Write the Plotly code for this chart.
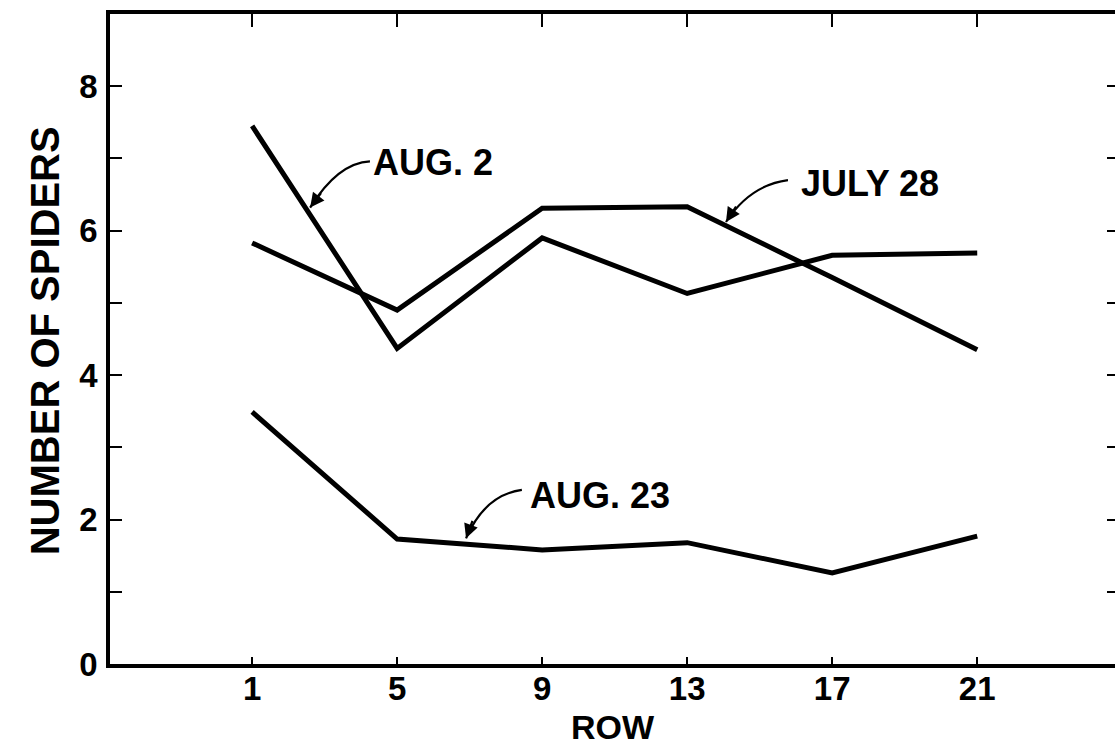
import plotly.graph_objects as go

# ---- data ----
rows = [1, 5, 9, 13, 17, 21]
july28 = [5.83, 4.90, 6.31, 6.33, 5.35, 4.35]
aug2 = [7.45, 4.37, 5.90, 5.13, 5.66, 5.69]
aug23 = [3.49, 1.73, 1.58, 1.68, 1.26, 1.77]

y_ticks = [0, 1, 2, 3, 4, 5, 6, 7, 8]
y_ticktext = ["0", "", "2", "", "4", "", "6", "", "8"]
x_ticks = rows
x_ticktext = ["1", "5", "9", "13", "17", "21"]

# label text, label centre (data units), leader start, leader control, arrow tip
label_names = ["AUG. 2", "JULY 28", "AUG. 23"]
label_pos = [(5.99, 6.94), (18.04, 6.66), (10.59, 2.34)]
leader_start = [(4.25, 6.96), (15.78, 6.70), (8.44, 2.41)]
leader_ctrl = [(3.37, 6.94), (14.73, 6.63), (7.42, 2.34)]
leader_tip = [(2.60, 6.32), (14.07, 6.12), (6.90, 1.74)]
head_offsets = [(12, -16), (11, -17), (7, -19)]

XR = [-2.92, 24.8]
YR = [0, 9]
FONT = "Liberation Sans, Arial, Helvetica, sans-serif"

fig = go.Figure()
for name, vals in [("JULY 28", july28), ("AUG. 2", aug2), ("AUG. 23", aug23)]:
    fig.add_trace(go.Scatter(x=rows, y=vals, mode="lines", name=name,
                             line=dict(color="black", width=5),
                             showlegend=False, hoverinfo="skip"))
# invisible trace to anchor the secondary (top/right) axes
fig.add_trace(go.Scatter(x=[rows[0]], y=[0], xaxis="x2", yaxis="y2", mode="markers",
                         marker=dict(opacity=0), showlegend=False, hoverinfo="skip"))

shapes = []
annotations = []
for txt, (lx, ly), (sx, sy), (cx, cy), (tx, ty), (ax, ay) in zip(
        label_names, label_pos, leader_start, leader_ctrl, leader_tip, head_offsets):
    annotations.append(dict(x=lx, y=ly, xref="x", yref="y", text=txt, showarrow=False,
                            font=dict(family=FONT, size=36, color="black", weight="bold"),
                            xanchor="center", yanchor="middle"))
    shapes.append(dict(type="path", xref="x", yref="y",
                       path=f"M {sx},{sy} Q {cx},{cy} {tx},{ty}",
                       line=dict(color="black", width=2.2)))
    annotations.append(dict(x=tx, y=ty, xref="x", yref="y", text="", showarrow=True,
                            ax=ax, ay=ay, arrowhead=2, arrowsize=1.3, arrowwidth=2.2,
                            arrowcolor="black", standoff=0))

annotations.append(dict(x=-0.0647, y=0.498, xref="paper", yref="paper",
                        text="NUMBER OF SPIDERS", textangle=-90, showarrow=False,
                        font=dict(family=FONT, size=40, color="black", weight="bold"),
                        xanchor="center", yanchor="middle"))
annotations.append(dict(x=0.50, y=-0.097, xref="paper", yref="paper",
                        text="ROW", showarrow=False,
                        font=dict(family=FONT, size=34, color="black", weight="bold"),
                        xanchor="center", yanchor="middle"))

tickfont = dict(family=FONT, size=33, color="black", weight="bold")

fig.update_layout(
    width=1115, height=750,
    margin=dict(l=110, r=0, t=14, b=86),
    paper_bgcolor="white", plot_bgcolor="white",
    shapes=shapes, annotations=annotations,
    xaxis=dict(range=XR, tickmode="array", tickvals=x_ticks, ticktext=x_ticktext,
               ticks="inside", ticklen=7, tickwidth=2, tickcolor="black",
               showline=True, linewidth=3.5, linecolor="black", showgrid=False,
               zeroline=False, tickfont=tickfont, ticklabelstandoff=-7),
    xaxis2=dict(range=XR, overlaying="x", side="top", tickmode="array",
                tickvals=x_ticks, ticks="inside", ticklen=13, tickwidth=2,
                tickcolor="black", showline=True, linewidth=3.5, linecolor="black",
                showgrid=False, zeroline=False, showticklabels=False),
    yaxis=dict(range=YR, tickmode="array", tickvals=y_ticks, ticktext=y_ticktext,
               ticks="inside", ticklen=12, tickwidth=2, tickcolor="black",
               showline=True, linewidth=3.5, linecolor="black", showgrid=False,
               zeroline=False, tickfont=tickfont, ticklabelstandoff=2),
    yaxis2=dict(range=YR, overlaying="y", side="right", tickmode="array",
                tickvals=y_ticks[1:], ticks="inside", ticklen=8, tickwidth=2,
                tickcolor="black", showline=False, showgrid=False, zeroline=False,
                showticklabels=False),
)

fig.write_html("out.html", config={"displayModeBar": False},
               post_script="document.body.style.margin='0';")
